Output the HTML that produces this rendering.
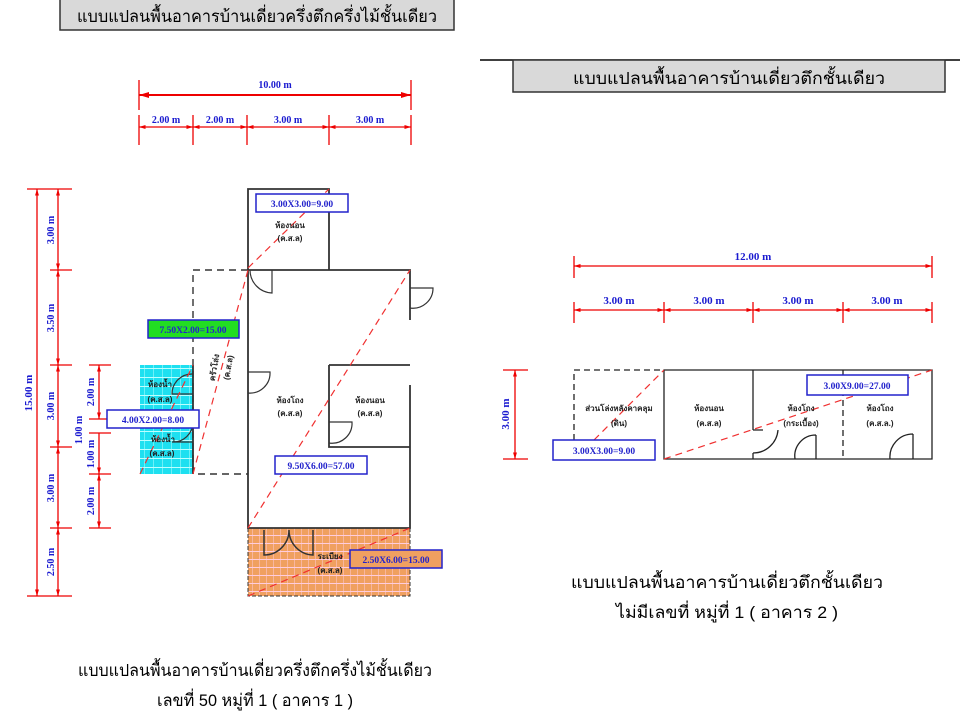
<!DOCTYPE html>
<html><head><meta charset="utf-8"><style>
html,body{margin:0;padding:0;background:#fff;}
svg{display:block;font-family:"Liberation Serif","Noto Sans CJK SC",serif;}
.t{font-family:"Liberation Sans","Noto Sans CJK SC",sans-serif;}
</style></head><body>
<svg width="960" height="720" viewBox="0 0 960 720" xmlns="http://www.w3.org/2000/svg">
<defs>
<marker id="a" viewBox="0 0 10 10" refX="10" refY="5" markerWidth="5" markerHeight="5" orient="auto-start-reverse"><path d="M0,2 L10,5 L0,8z" fill="#e00"/></marker>
<pattern id="cy" width="9" height="9" patternUnits="userSpaceOnUse"><rect width="9" height="9" fill="#1ee0f0"/><path d="M0 0V9M0 8.5H9" stroke="#bff" stroke-width="1"/></pattern>
<pattern id="or" width="7" height="8" patternUnits="userSpaceOnUse"><rect width="7" height="8" fill="#f0a060"/><path d="M0 0V8M0 7.5H7" stroke="#fcd" stroke-width="1"/></pattern>
</defs>

<rect x="60" y="-2" width="394" height="32" fill="#d9d9d9" stroke="#333" stroke-width="1.5"/>
<text class="t" x="257" y="22" font-size="17" text-anchor="middle" textLength="360" lengthAdjust="spacingAndGlyphs">แบบแปลนพื้นอาคารบ้านเดี่ยวครึ่งตึกครึ่งไม้ชั้นเดียว</text>
<line x1="480" y1="60" x2="960" y2="60" stroke="#000" stroke-width="1.5"/>
<rect x="513" y="60" width="432" height="32" fill="#d9d9d9" stroke="#333" stroke-width="1.5"/>
<text class="t" x="729" y="84" font-size="17" text-anchor="middle" textLength="312" lengthAdjust="spacingAndGlyphs">แบบแปลนพื้นอาคารบ้านเดี่ยวตึกชั้นเดียว</text>

<g stroke="#e00" stroke-width="1.3" fill="none">
<line x1="139" y1="80" x2="139" y2="110"/><line x1="411" y1="80" x2="411" y2="110"/>
<line x1="139" y1="95" x2="411" y2="95" marker-start="url(#a)" marker-end="url(#a)" stroke-width="2"/>
<line x1="139" y1="115" x2="139" y2="145"/><line x1="193" y1="115" x2="193" y2="145"/><line x1="247" y1="115" x2="247" y2="145"/><line x1="329" y1="115" x2="329" y2="145"/><line x1="411" y1="115" x2="411" y2="145"/>
<line x1="139" y1="127" x2="193" y2="127" marker-start="url(#a)" marker-end="url(#a)"/>
<line x1="193" y1="127" x2="247" y2="127" marker-start="url(#a)" marker-end="url(#a)"/>
<line x1="247" y1="127" x2="329" y2="127" marker-start="url(#a)" marker-end="url(#a)"/>
<line x1="329" y1="127" x2="411" y2="127" marker-start="url(#a)" marker-end="url(#a)"/>
<line x1="27" y1="189" x2="72" y2="189"/><line x1="27" y1="596" x2="72" y2="596"/>
<line x1="37" y1="189" x2="37" y2="596" marker-start="url(#a)" marker-end="url(#a)"/>
<line x1="50" y1="270" x2="72" y2="270"/><line x1="50" y1="365" x2="72" y2="365"/><line x1="50" y1="447" x2="72" y2="447"/><line x1="50" y1="528" x2="72" y2="528"/>
<line x1="58" y1="189" x2="58" y2="270" marker-start="url(#a)" marker-end="url(#a)"/>
<line x1="58" y1="270" x2="58" y2="365" marker-start="url(#a)" marker-end="url(#a)"/>
<line x1="58" y1="365" x2="58" y2="447" marker-start="url(#a)" marker-end="url(#a)"/>
<line x1="58" y1="447" x2="58" y2="528" marker-start="url(#a)" marker-end="url(#a)"/>
<line x1="58" y1="528" x2="58" y2="596" marker-start="url(#a)" marker-end="url(#a)"/>
<line x1="89" y1="365" x2="111" y2="365"/><line x1="89" y1="419" x2="111" y2="419"/><line x1="89" y1="433" x2="111" y2="433"/><line x1="89" y1="474" x2="111" y2="474"/><line x1="89" y1="528" x2="111" y2="528"/>
<line x1="99" y1="365" x2="99" y2="419" marker-start="url(#a)" marker-end="url(#a)"/>
<line x1="99" y1="433" x2="99" y2="474" marker-end="url(#a)"/>
<line x1="99" y1="474" x2="99" y2="528" marker-start="url(#a)" marker-end="url(#a)"/>
<line x1="574" y1="256" x2="574" y2="278"/><line x1="932" y1="256" x2="932" y2="278"/>
<line x1="574" y1="266" x2="932" y2="266" marker-start="url(#a)" marker-end="url(#a)"/>
<line x1="574" y1="302" x2="574" y2="323"/><line x1="664" y1="302" x2="664" y2="323"/><line x1="753" y1="302" x2="753" y2="323"/><line x1="843" y1="302" x2="843" y2="323"/><line x1="932" y1="302" x2="932" y2="323"/>
<line x1="574" y1="310" x2="664" y2="310" marker-start="url(#a)" marker-end="url(#a)"/>
<line x1="664" y1="310" x2="753" y2="310" marker-start="url(#a)" marker-end="url(#a)"/>
<line x1="753" y1="310" x2="843" y2="310" marker-start="url(#a)" marker-end="url(#a)"/>
<line x1="843" y1="310" x2="932" y2="310" marker-start="url(#a)" marker-end="url(#a)"/>
<line x1="503" y1="370" x2="528" y2="370"/><line x1="503" y1="459" x2="528" y2="459"/>
<line x1="515" y1="370" x2="515" y2="459" marker-start="url(#a)" marker-end="url(#a)"/>
</g>

<g fill="#1a1ad0" font-size="10" font-weight="bold" text-anchor="middle">
<text x="275" y="88">10.00 m</text>
<text x="166" y="123">2.00 m</text><text x="220" y="123">2.00 m</text><text x="288" y="123">3.00 m</text><text x="370" y="123">3.00 m</text>
<text transform="translate(54,230) rotate(-90)">3.00 m</text>
<text transform="translate(54,318) rotate(-90)">3.50 m</text>
<text transform="translate(54,406) rotate(-90)">3.00 m</text>
<text transform="translate(54,488) rotate(-90)">3.00 m</text>
<text transform="translate(54,562) rotate(-90)">2.50 m</text>
<text transform="translate(32,393) rotate(-90)" font-size="11">15.00 m</text>
<text transform="translate(94,392) rotate(-90)">2.00 m</text>
<text transform="translate(82,430) rotate(-90)">1.00 m</text>
<text transform="translate(94,454) rotate(-90)">1.00 m</text>
<text transform="translate(94,501) rotate(-90)">2.00 m</text>
<text x="753" y="260" font-size="11">12.00 m</text>
<text x="619" y="304" font-size="11">3.00 m</text><text x="709" y="304" font-size="11">3.00 m</text><text x="798" y="304" font-size="11">3.00 m</text><text x="887" y="304" font-size="11">3.00 m</text>
<text transform="translate(509,414) rotate(-90)" font-size="11">3.00 m</text>
</g>

<rect x="140" y="365" width="53" height="109" fill="url(#cy)"/>
<rect x="248" y="528" width="162" height="68" fill="url(#or)" stroke="#333" stroke-dasharray="4,2"/>
<g stroke="#333" stroke-width="1.8" fill="none">
<path d="M248 270V189H329V270"/>
<path d="M248 270H410V320M410 385V528H248V270"/>
<path d="M329 365H410M329 365V447H410"/>
<path d="M193 365V474"/>
</g>
<path d="M248 270H193V474H248" stroke="#333" stroke-width="1.4" fill="none" stroke-dasharray="7,5"/>
<g stroke="#333" stroke-width="1.2" fill="none">
<path d="M272 270V293 A23 23 0 0 1 250 270"/>
<path d="M410 288H433A20 20 0 0 1 410 308"/>
<path d="M248 372H270A20 20 0 0 1 248 393"/>
<path d="M329 422H352A20 20 0 0 1 329 443"/>
<path d="M193 394H172A20 20 0 0 1 193 374"/>
<path d="M193 442H172A20 20 0 0 0 193 422"/>
<path d="M264 530V555A25 25 0 0 0 289 530 M313 530V555 A25 25 0 0 1 289 530" stroke-width="1.5"/>
</g>
<g stroke="#f03030" stroke-width="1.2" stroke-dasharray="7,5" fill="none">
<line x1="248" y1="268" x2="329" y2="189"/>
<line x1="248" y1="528" x2="410" y2="270"/>
<line x1="193" y1="474" x2="248" y2="270"/>
<line x1="140" y1="474" x2="193" y2="365"/>
<line x1="248" y1="596" x2="410" y2="528"/>
</g>
<g font-size="8" font-weight="bold" fill="#222" text-anchor="middle" class="t">
<text x="290" y="228">ห้องนอน</text><text x="290" y="241">(ค.ส.ล)</text>
<text x="290" y="403">ห้องโถง</text><text x="290" y="416">(ค.ส.ล)</text>
<text x="370" y="403">ห้องนอน</text><text x="370" y="416">(ค.ส.ล)</text>
<text x="160" y="387">ห้องน้ำ</text><text x="160" y="402">(ค.ส.ล)</text>
<text x="163" y="442">ห้องน้ำ</text><text x="162" y="456">(ค.ส.ล)</text>
<text x="330" y="559">ระเบียง</text><text x="330" y="573">(ค.ส.ล)</text>
<text transform="translate(217,368) rotate(-80)">ครัวโล่ง</text>
<text transform="translate(231,368) rotate(-80)">(ค.ส.ล)</text>
</g>
<g font-size="9.5" font-weight="bold" text-anchor="middle">
<rect x="256" y="194" width="92" height="18" fill="#fff" stroke="#2222cc" stroke-width="1.5"/><text x="302" y="207" fill="#2222cc">3.00X3.00=9.00</text>
<rect x="148" y="320" width="91" height="18" fill="#22dd22" stroke="#2222cc" stroke-width="1.5"/><text x="193" y="333" fill="#2222cc">7.50X2.00=15.00</text>
<rect x="107" y="410" width="92" height="18" fill="#fff" stroke="#2222cc" stroke-width="1.5"/><text x="153" y="423" fill="#2222cc">4.00X2.00=8.00</text>
<rect x="275" y="456" width="92" height="18" fill="#fff" stroke="#2222cc" stroke-width="1.5"/><text x="321" y="469" fill="#2222cc">9.50X6.00=57.00</text>
<rect x="350" y="550" width="92" height="18" fill="#f0a060" stroke="#2222cc" stroke-width="1.5"/><text x="396" y="563" fill="#2222cc">2.50X6.00=15.00</text>
</g>

<g stroke="#222" stroke-width="1.3" fill="none">
<path d="M664 370H932V459H664Z"/>
<line x1="753" y1="370" x2="753" y2="430"/><line x1="753" y1="453" x2="753" y2="459"/>
<path d="M574 440V370H664" stroke-dasharray="6,4"/>
<line x1="843" y1="370" x2="843" y2="459" stroke-dasharray="6,4"/>
<path d="M753 430H763 M753 453 A25 25 0 0 0 778 430"/>
<path d="M816 459V435 M795 459 A21 21 0 0 1 816 435"/>
<path d="M913 459V434 M890 459 A23 23 0 0 1 913 434"/>
</g>
<g stroke="#f03030" stroke-width="1.2" stroke-dasharray="7,5" fill="none">
<line x1="594" y1="440" x2="664" y2="370"/>
<line x1="664" y1="459" x2="932" y2="370"/>
</g>
<g font-size="8" font-weight="bold" fill="#222" text-anchor="middle" class="t">
<text x="619" y="411">ส่วนโล่งหลังคาคลุม</text><text x="619" y="426">(ดิน)</text>
<text x="709" y="411">ห้องนอน</text><text x="709" y="426">(ค.ส.ล)</text>
<text x="801" y="411">ห้องโถง</text><text x="801" y="426">(กระเบื้อง)</text>
<text x="880" y="411">ห้องโถง</text><text x="880" y="426">(ค.ส.ล.)</text>
</g>
<g font-size="9.5" font-weight="bold" text-anchor="middle" fill="#2222cc">
<rect x="553" y="440" width="102" height="20" fill="#fff" stroke="#2222cc" stroke-width="1.5"/><text x="604" y="454">3.00X3.00=9.00</text>
<rect x="807" y="375" width="101" height="20" fill="#fff" stroke="#2222cc" stroke-width="1.5"/><text x="857" y="389">3.00X9.00=27.00</text>
</g>

<g class="t" font-size="17" text-anchor="middle" fill="#000">
<text x="727" y="588" textLength="312" lengthAdjust="spacingAndGlyphs">แบบแปลนพื้นอาคารบ้านเดี่ยวตึกชั้นเดียว</text>
<text x="727" y="618" textLength="222" lengthAdjust="spacingAndGlyphs">ไม่มีเลขที่ หมู่ที่ 1 ( อาคาร 2 )</text>
<text x="255" y="676" textLength="354" lengthAdjust="spacingAndGlyphs">แบบแปลนพื้นอาคารบ้านเดี่ยวครึ่งตึกครึ่งไม้ชั้นเดียว</text>
<text x="255" y="706" textLength="196" lengthAdjust="spacingAndGlyphs">เลขที่ 50 หมู่ที่ 1 ( อาคาร 1 )</text>
</g>
</svg>
</body></html>
